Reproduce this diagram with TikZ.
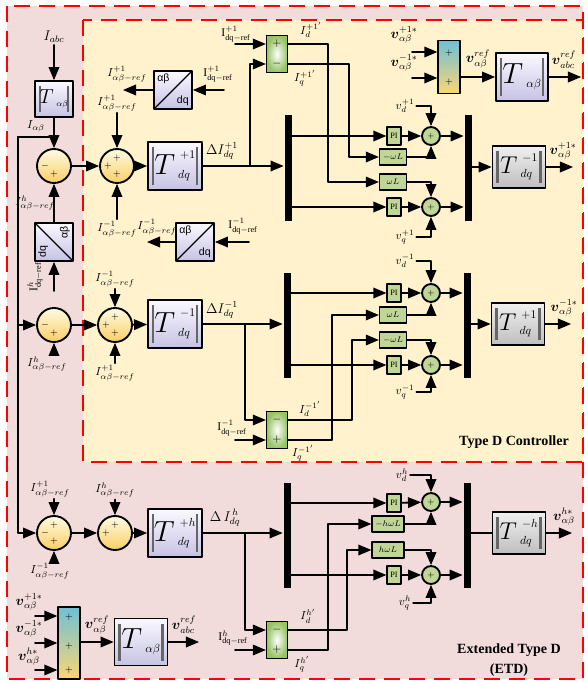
\documentclass[tikz,border=0pt]{standalone}
\usepackage{amsmath}
\usepackage{amssymb}
\usepackage{fontspec}
\setmainfont{Liberation Serif}
\setsansfont{Liberation Sans}
\usetikzlibrary{arrows}
\definecolor{pinkbg}{RGB}{242,220,219}
\definecolor{yellowbg}{RGB}{255,242,204}
\definecolor{lavtop}{RGB}{250,249,255}
\definecolor{lavbot}{RGB}{198,194,228}
\definecolor{greytop}{RGB}{240,240,240}
\definecolor{greybot}{RGB}{190,190,190}
\definecolor{sumtop}{RGB}{255,251,228}
\definecolor{sumbot}{RGB}{250,206,100}
\definecolor{blkgreen}{RGB}{192,214,150}
\definecolor{subgreen}{RGB}{150,195,100}
\definecolor{mixtop}{RGB}{110,192,214}
\definecolor{mixbot}{RGB}{252,214,115}
\newcommand{\pxu}{0.03cm}
\newcommand{\blkT}[3]{$\hbox{#1$T$}^{\;\,#2}_{\;#3}$}

\begin{document}
\begin{tikzpicture}[line cap=round,line join=round,>=triangle 45,x=0.03cm,y=-0.03cm,line width=1.6pt,
  frame/.style={draw=red,line width=2.2pt,line cap=butt,dash pattern=on 0.48cm off 0.27cm},
  lbl/.style={inner sep=1pt},
  vlbl/.style={inner sep=1pt,font=\large},
  pp/.style={rectangle,minimum size=0pt,inner sep=0pt,draw=none,fill=none},
  sumc/.style n args={3}{circle,draw,minimum size=34*\pxu,inner sep=0pt,top color=sumtop,bottom color=sumbot,
    path picture={
      \node[pp,font=\footnotesize] at ([xshift=-9*\pxu]path picture bounding box.center) {#1};
      \node[pp,font=\footnotesize] at ([yshift=8*\pxu]path picture bounding box.center) {#2};
      \node[pp,font=\footnotesize] at ([yshift=-8*\pxu]path picture bounding box.center) {#3};}},
  tbox/.style={draw,inner sep=0pt,top color=lavtop,bottom color=lavbot,font=\Large,
    minimum width=54*\pxu,minimum height=48*\pxu,
    path picture={
      \draw[line width=2pt,black!60,line cap=butt] ([xshift=5*\pxu,yshift=5*\pxu]path picture bounding box.south west) -- ([xshift=5*\pxu,yshift=-5*\pxu]path picture bounding box.north west);
      \draw[line width=2pt,black!60,line cap=butt] ([xshift=-5*\pxu,yshift=5*\pxu]path picture bounding box.south east) -- ([xshift=-5*\pxu,yshift=-5*\pxu]path picture bounding box.north east);}},
  gbox/.style={tbox,top color=greytop,bottom color=greybot,minimum width=53*\pxu,minimum height=42*\pxu},
  convbox/.style={draw,minimum size=38*\pxu,inner sep=0pt,top color=lavtop,bottom color=lavbot,
    path picture={
      \draw[line width=1.1pt] (path picture bounding box.south west) -- (path picture bounding box.north east);
      \node[pp,anchor=north west,inner sep=2pt,font=\sffamily\small] at (path picture bounding box.north west) {αβ};
      \node[pp,anchor=south east,inner sep=2pt,font=\sffamily\small] at (path picture bounding box.south east) {dq};}},
  convrot/.style={draw,minimum size=38*\pxu,inner sep=0pt,top color=lavtop,bottom color=lavbot,
    path picture={
      \draw[line width=1.1pt] (path picture bounding box.north west) -- (path picture bounding box.south east);
      \node[pp,rotate=90,anchor=north west,inner sep=2pt,font=\sffamily\small] at (path picture bounding box.south west) {dq};
      \node[pp,rotate=90,anchor=south east,inner sep=2pt,font=\sffamily\small] at (path picture bounding box.north east) {αβ};}},
  gsub/.style={draw,line width=1.2pt,minimum width=21*\pxu,minimum height=37*\pxu,inner sep=0pt,inner color=white,outer color=subgreen},
  mixbox/.style={draw,line width=1.2pt,minimum width=22*\pxu,inner sep=0pt,top color=mixtop,bottom color=mixbot},
  sgn/.style={inner sep=0pt,font=\footnotesize},
  bsgn/.style={inner sep=0pt,font=\normalsize},
  bar/.style={fill=black,draw=none,minimum width=7*\pxu,inner sep=0pt},
  pibox/.style={draw,line width=1.2pt,fill=blkgreen,minimum width=14*\pxu,minimum height=18*\pxu,inner sep=0pt,font=\scriptsize},
  wlbox/.style={draw,line width=1.2pt,fill=blkgreen,minimum width=27*\pxu,minimum height=16*\pxu,inner sep=0pt,font=\scriptsize},
  gsum/.style={circle,draw,fill=blkgreen,minimum size=18*\pxu,inner sep=0pt,font=\scriptsize}]
	\fill[white] (0,0) rectangle (587,683);
	\useasboundingbox (0,0) rectangle (587,683);
	\draw[frame,fill=pinkbg] (7,6) rectangle (583,679);
	\draw[frame,fill=yellowbg] (83,20) rectangle (583,462);
	% left column
	\node[lbl,font=\large] (iabc) at (54,37) {$I_{abc}$};
	\node[tbox,minimum width=38*\pxu,minimum height=36*\pxu,font=\normalsize] (tab1) at (54,99) {\blkT{\LARGE}{}{\alpha\beta}};
	\node[lbl] (iab) at (36,126) {$I_{\alpha\beta}$};
	\coordinate (jab) at (54,137);
	\coordinate (lft) at (18,137);
	\node[sumc={$-$}{}{$+$}] (s1) at (54,166) {};
	\node[convrot] (cv3) at (54,242) {};
	\node[lbl] (ih1) at (35,203) {$I^{h}_{\alpha\beta-ref}$};
	\node[lbl,rotate=90] (ihdq) at (35,277) {$\mathrm{I}^{h}_{\mathrm{dq-ref}}$};
	\coordinate (cv3in) at (54,291);
	\node[sumc={$-$}{}{$+$}] (s3) at (54,325) {};
	\node[lbl] (ih2) at (47,364) {$I^{h}_{\alpha\beta-ref}$};
	\node[sumc={$-$}{$+$}{$+$}] (s5) at (54,533) {};
	\node[lbl] (ip1d) at (50,489) {$I^{+1}_{\alpha\beta-ref}$};
	\node[lbl] (im1d) at (50,571) {$I^{-1}_{\alpha\beta-ref}$};
	% row +1
	\node[sumc={$+$}{$+$}{$+$}] (s2) at (117,166) {};
	\node[lbl] (ip1a) at (117,103) {$I^{+1}_{\alpha\beta-ref}$};
	\node[lbl] (im1a) at (117,229) {$I^{-1}_{\alpha\beta-ref}$};
	\node[convbox] (cv1) at (173,90) {};
	\coordinate (cv1out) at (123,90);
	\coordinate (cv1in) at (224,90);
	\node[lbl] (ip1b) at (127,74) {$I^{+1}_{\alpha\beta-ref}$};
	\node[lbl] (idqp1a) at (218,74) {$\mathrm{I}^{+1}_{\mathrm{dq-ref}}$};
	\node[convbox] (cv2) at (195,242) {};
	\coordinate (cv2out) at (147,242);
	\coordinate (cv2in) at (249,242);
	\node[lbl] (im1b) at (157,227) {$I^{-1}_{\alpha\beta-ref}$};
	\node[lbl] (idqm1a) at (243,226) {$\mathrm{I}^{-1}_{\mathrm{dq-ref}}$};
	\node[tbox] (tp1) at (175,166) {\blkT{\Huge}{+1}{dq}};
	\node[lbl,font=\large] (dip1) at (222,151) {$\Delta I^{+1}_{dq}$};
	\node[bar,minimum height=106*\pxu] (bar1) at (288,168) {};
	\coordinate (j1) at (250,166);
	\node[gsub] (gs1) at (277,54) {};
	\node[bsgn] (gs1a) at (277,44) {$+$};
	\node[bsgn] (gs1b) at (277,64) {$-$};
	\coordinate (gs1in) at (235,44);
	\node[lbl] (idqp1b) at (236,34) {$\mathrm{I}^{+1}_{\mathrm{dq-ref}}$};
	\node[lbl] (id1) at (311,30) {$I^{+1'}_{d}$};
	\node[lbl] (iq1) at (305,78) {$I^{+1'}_{q}$};
	\coordinate (x1d) at (328,100);
	\coordinate (x1q) at (349,100);
	\node[pibox] (pi1) at (394,136) {PI};
	\node[wlbox] (nwl1) at (393,157) {$-\omega L$};
	\node[wlbox] (wl1) at (393,182) {$\omega L$};
	\node[pibox] (pi2) at (394,207) {PI};
	\node[gsum] (ga1) at (431,136) {$+$};
	\node[gsum] (ga2) at (431,207) {$+$};
	\node[lbl] (vd1) at (405,106) {$v^{+1}_{d}$};
	\node[lbl] (vq1) at (405,237) {$v^{+1}_{q}$};
	\node[bar,minimum height=106*\pxu] (bar2) at (468,168) {};
	\node[gbox] (ti1) at (519,167) {\blkT{\huge}{-1}{dq}};
	\node[vlbl] (vp1s) at (563,151) {$\boldsymbol{v}^{+1*}_{\alpha\beta}$};
	\coordinate (vp1out) at (573,167);
	% output transform
	\node[mixbox,minimum height=53*\pxu] (mx1) at (449,67) {};
	\node[sgn] (mx1a) at (449,53) {$+$};
	\node[sgn] (mx1b) at (449,82) {$+$};
	\node[vlbl] (vs1a) at (404,35) {$\boldsymbol{v}^{+1*}_{\alpha\beta}$};
	\node[vlbl] (vs1b) at (404,63) {$\boldsymbol{v}^{-1*}_{\alpha\beta}$};
	\coordinate (mx1ina) at (412,52);
	\coordinate (mx1inb) at (412,78);
	\node[tbox,minimum width=52*\pxu] (tab2) at (522,77) {\blkT{\Huge}{}{\alpha\beta}};
	\node[vlbl] (vref1) at (478,59) {$\boldsymbol{v}^{ref}_{\alpha\beta}$};
	\node[vlbl] (vabc1) at (564,60) {$\boldsymbol{v}^{ref}_{abc}$};
	\coordinate (tab2out) at (581,77);
	% row -1
	\node[sumc={$+$}{$+$}{$+$}] (s4) at (115,325) {};
	\node[lbl] (im1c) at (115,279) {$I^{-1}_{\alpha\beta-ref}$};
	\node[lbl] (ip1c) at (115,373) {$I^{+1}_{\alpha\beta-ref}$};
	\node[tbox] (tm1) at (175,324) {\blkT{\Huge}{-1}{dq}};
	\node[lbl,font=\large] (dim1) at (222,310) {$\Delta I^{-1}_{dq}$};
	\node[bar,minimum height=105*\pxu] (bar3) at (287,325) {};
	\coordinate (j2) at (245,324);
	\node[gsub] (gs2) at (277,430) {};
	\node[bsgn] (gs2a) at (277,420) {$-$};
	\node[bsgn] (gs2b) at (277,440) {$+$};
	\coordinate (gs2in) at (235,440);
	\node[lbl] (idqm1b) at (232,428) {$\mathrm{I}^{-1}_{\mathrm{dq-ref}}$};
	\node[lbl] (id2) at (310,409) {$I^{-1'}_{d}$};
	\node[lbl] (iq2) at (303,453) {$I^{-1'}_{q}$};
	\coordinate (x2d) at (352,400);
	\coordinate (x2q) at (332,400);
	\node[pibox] (pi3) at (394,293) {PI};
	\node[wlbox] (wl2) at (393,315) {$\omega L$};
	\node[wlbox] (nwl2) at (393,340) {$-\omega L$};
	\node[pibox] (pi4) at (394,365) {PI};
	\node[gsum] (gc1) at (431,293) {$+$};
	\node[gsum] (gc2) at (431,365) {$+$};
	\node[lbl] (vd2) at (405,261) {$v^{-1}_{d}$};
	\node[lbl] (vq2) at (405,392) {$v^{-1}_{q}$};
	\node[bar,minimum height=105*\pxu] (bar4) at (467,325) {};
	\node[gbox] (ti2) at (518,324) {\blkT{\huge}{+1}{dq}};
	\node[vlbl] (vm1s) at (564,308) {$\boldsymbol{v}^{-1*}_{\alpha\beta}$};
	\coordinate (vm1out) at (571,324);
	\node[font=\large\bfseries] (typed) at (514,442) {Type D Controller};
	% row h
	\node[sumc={$+$}{$+$}{}] (s6) at (115,533) {};
	\node[lbl] (ih3) at (115,490) {$I^{h}_{\alpha\beta-ref}$};
	\node[tbox] (th1) at (175,533) {\blkT{\Huge}{+h}{dq}};
	\node[lbl,font=\large] (dih) at (225,518) {$\Delta\, I^{\,h}_{dq}$};
	\node[bar,minimum height=105*\pxu] (bar5) at (287,535) {};
	\coordinate (j3) at (245,533);
	\node[gsub] (gs3) at (277,640) {};
	\node[bsgn] (gs3a) at (277,630) {$-$};
	\node[bsgn] (gs3b) at (277,650) {$+$};
	\coordinate (gs3in) at (235,650);
	\node[lbl] (idqh) at (233,638) {$\mathrm{I}^{h}_{\mathrm{dq-ref}}$};
	\node[lbl] (id3) at (308,616) {$I^{h'}_{d}$};
	\node[lbl] (iq3) at (302,664) {$I^{h'}_{q}$};
	\coordinate (x3d) at (347,600);
	\coordinate (x3q) at (328,600);
	\node[pibox] (pi5) at (394,503) {PI};
	\node[wlbox,minimum width=32*\pxu] (nwhl) at (388,524) {$-h\omega L$};
	\node[wlbox,minimum width=32*\pxu] (whl) at (388,550) {$h\omega L$};
	\node[pibox] (pi6) at (394,575) {PI};
	\node[gsum] (ge1) at (431,502) {$+$};
	\node[gsum] (ge2) at (431,575) {$+$};
	\node[lbl] (vd3) at (402,475) {$v^{h}_{d}$};
	\node[lbl] (vq3) at (405,603) {$v^{h}_{q}$};
	\node[bar,minimum height=105*\pxu] (bar6) at (467,535) {};
	\node[gbox] (ti3) at (519,533) {\blkT{\huge}{-h}{dq}};
	\node[vlbl] (vhs) at (564,517) {$\boldsymbol{v}^{h*}_{\alpha\beta}$};
	\coordinate (vhout) at (572,533);
	\node[font=\large\bfseries] (etd1) at (509,650) {Extended Type D};
	\node[font=\large\bfseries] (etd2) at (509,670) {(ETD)};
	% ETD output transform
	\node[mixbox,minimum height=72*\pxu] (mx2) at (69,643) {};
	\node[sgn] (mx2a) at (69,617) {$+$};
	\node[sgn] (mx2b) at (69,646) {$+$};
	\node[sgn] (mx2c) at (69,670) {$+$};
	\node[vlbl] (vs2a) at (29,602) {$\boldsymbol{v}^{+1*}_{\alpha\beta}$};
	\node[vlbl] (vs2b) at (29,629) {$\boldsymbol{v}^{-1*}_{\alpha\beta}$};
	\node[vlbl] (vs2c) at (29,657) {$\boldsymbol{v}^{h*}_{\alpha\beta}$};
	\coordinate (mx2ina) at (35,616);
	\coordinate (mx2inb) at (35,643);
	\coordinate (mx2inc) at (35,670);
	\node[tbox,minimum width=53*\pxu,minimum height=47*\pxu] (tab3) at (141,642) {\blkT{\Huge}{}{\alpha\beta}};
	\node[vlbl] (vref2) at (97,625) {$\boldsymbol{v}^{ref}_{\alpha\beta}$};
	\node[vlbl] (vabc2) at (184,625) {$\boldsymbol{v}^{ref}_{abc}$};
	\coordinate (tab3out) at (199,642);
	% connectors
	\draw[->] (iabc) -- (tab1);
	\draw (tab1) -- (jab);
	\draw[->] (jab) -- (s1);
	\draw (jab) -- (lft);
	\draw[->] (lft) |- (s3);
	\draw[->] (lft) |- (s5);
	\fill (jab) circle (1.8pt);
	\draw[->] (cv3) -- (s1);
	\draw[->] (cv3in) -- (cv3);
	\draw[->] (s1) -- (s2);
	\draw[->] (ip1a) -- (s2);
	\draw[->] (im1a) -- (s2);
	\draw[->] (cv1in) -- (cv1);
	\draw[->] (cv1) -- (cv1out);
	\draw[->] (cv2in) -- (cv2);
	\draw[->] (cv2) -- (cv2out);
	\draw[->] (s2) -- (tp1);
	\draw[->] (tp1) -- (tp1 -| bar1.west);
	\draw[->] (gs1in) -- (gs1in -| gs1.west);
	\draw[->] (j1) |- (gs1b -| gs1.west);
	\draw[->] (gs1a -| gs1.east) -| (x1d) |- (wl1);
	\draw[->] (gs1b -| gs1.east) -| (x1q) |- (nwl1);
	\draw[->] (bar1.east |- pi1) -- (pi1);
	\draw[->] (bar1.east |- pi2) -- (pi2);
	\draw[->] (pi1) -- (ga1);
	\draw[->] (pi2) -- (ga2);
	\draw[->] (nwl1) -| (ga1);
	\draw[->] (wl1) -| (ga2);
	\draw[->] (vd1) -| (ga1);
	\draw[->] (vq1) -| (ga2);
	\draw[->] (ga1) -- (ga1 -| bar2.west);
	\draw[->] (ga2) -- (ga2 -| bar2.west);
	\draw[->] (bar2.east |- ti1) -- (ti1);
	\draw[->] (ti1) -- (vp1out);
	\draw[->] (mx1ina) -- (mx1ina -| mx1.west);
	\draw[->] (mx1inb) -- (mx1inb -| mx1.west);
	\draw[->] (mx1.east |- tab2) -- (tab2);
	\draw[->] (tab2) -- (tab2out);
	\draw[->] (s3) -- (s4);
	\draw[->] (ih2.north -| s3) -- (s3);
	\draw[->] (im1c) -- (s4);
	\draw[->] (ip1c) -- (s4);
	\draw[->] (s4) -- (tm1);
	\draw[->] (tm1) -- (tm1 -| bar3.west);
	\draw[->] (j2) |- (gs2a -| gs2.west);
	\draw[->] (gs2in) -- (gs2in -| gs2.west);
	\draw[->] (gs2a -| gs2.east) -| (x2d) |- (nwl2);
	\draw[->] (gs2b -| gs2.east) -| (x2q) |- (wl2);
	\draw[->] (bar3.east |- pi3) -- (pi3);
	\draw[->] (bar3.east |- pi4) -- (pi4);
	\draw[->] (pi3) -- (gc1);
	\draw[->] (pi4) -- (gc2);
	\draw[->] (wl2) -| (gc1);
	\draw[->] (nwl2) -| (gc2);
	\draw[->] (vd2) -| (gc1);
	\draw[->] (vq2) -| (gc2);
	\draw[->] (gc1) -- (gc1 -| bar4.west);
	\draw[->] (gc2) -- (gc2 -| bar4.west);
	\draw[->] (bar4.east |- ti2) -- (ti2);
	\draw[->] (ti2) -- (vm1out);
	\draw[->] (ip1d.south -| s5) -- (s5);
	\draw[->] (im1d.north -| s5) -- (s5);
	\draw[->] (s5) -- (s6);
	\draw[->] (ih3) -- (s6);
	\draw[->] (s6) -- (th1);
	\draw[->] (th1) -- (th1 -| bar5.west);
	\draw[->] (j3) |- (gs3a -| gs3.west);
	\draw[->] (gs3in) -- (gs3in -| gs3.west);
	\draw[->] (gs3a -| gs3.east) -| (x3d) |- (whl);
	\draw[->] (gs3b -| gs3.east) -| (x3q) |- (nwhl);
	\draw[->] (bar5.east |- pi5) -- (pi5);
	\draw[->] (bar5.east |- pi6) -- (pi6);
	\draw[->] (pi5) -- (ge1);
	\draw[->] (pi6) -- (ge2);
	\draw[->] (nwhl) -| (ge1);
	\draw[->] (whl) -| (ge2);
	\draw[->] (vd3) -| (ge1);
	\draw[->] (vq3) -| (ge2);
	\draw[->] (ge1) -- (ge1 -| bar6.west);
	\draw[->] (ge2) -- (ge2 -| bar6.west);
	\draw (bar6.east |- ti3) -- (ti3);
	\draw[->] (ti3) -- (vhout);
	\draw[->] (mx2ina) -- (mx2ina -| mx2.west);
	\draw[->] (mx2inb) -- (mx2inb -| mx2.west);
	\draw[->] (mx2inc) -- (mx2inc -| mx2.west);
	\draw[->] (mx2.east |- tab3) -- (tab3);
	\draw[->] (tab3) -- (tab3out);
\end{tikzpicture}
\end{document}
